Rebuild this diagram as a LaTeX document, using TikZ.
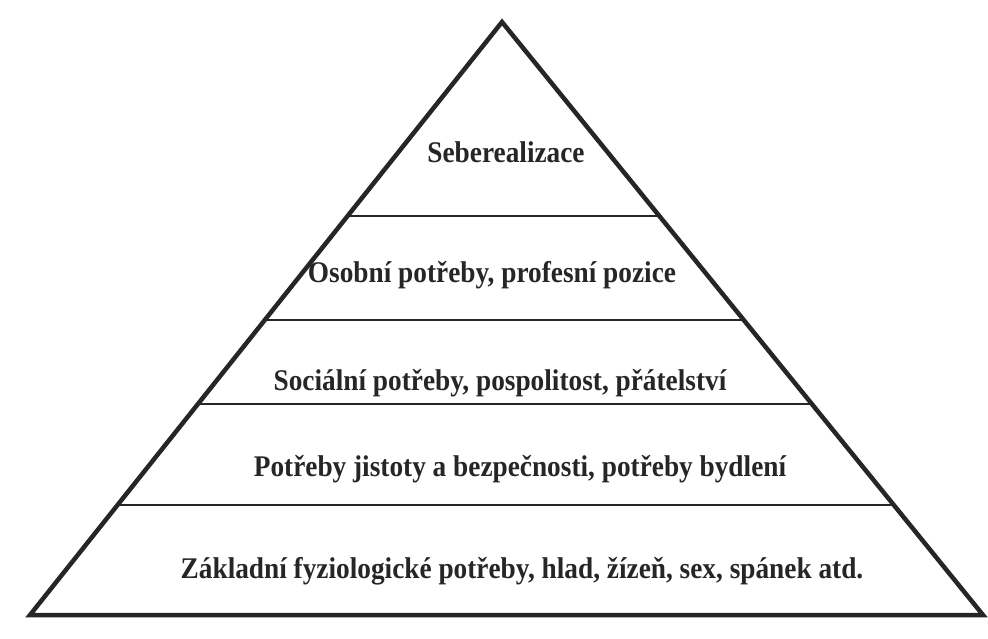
\documentclass[tikz,border=0pt]{standalone}
\usepackage{fontspec}
\setmainfont{Liberation Serif}[FakeStretch=0.91]
\usetikzlibrary{calc}

\begin{document}
\begin{tikzpicture}[
    x=1pt, y=-1pt,
    side/.style={line width=4.5pt, draw=black!85, line join=miter},
    divider/.style={line width=2.5pt, draw=black!85},
    tier/.style={font=\fontsize{30}{33}\selectfont\bfseries, text=black!85, inner sep=0pt, anchor=base}
]
    \useasboundingbox (0,0) rectangle (988,639);

    % Outline
    \coordinate (apex) at (502, 22);
    \coordinate (bl) at (30, 615);
    \coordinate (br) at (983, 615);
    \draw[side] (bl) -- (apex) -- (br) -- cycle;

    % Dividers
    \foreach \t/\n in {0.327/a, 0.5025/b, 0.644/c, 0.8145/d} {
        \coordinate (l\n) at ($(apex)!\t!(bl)$);
        \coordinate (r\n) at ($(apex)!\t!(br)$);
        \draw[divider] (l\n) -- (r\n);
    }

    % Levels
    \node[tier] (self) at (506, 163) {Seberealizace};
    \node[tier] (esteem) at (492, 282) {Osobní potřeby, profesní pozice};
    \node[tier] (social) at (500, 390) {Sociální potřeby, pospolitost, přátelství};
    \node[tier] (safety) at (520, 476) {Potřeby jistoty a bezpečnosti, potřeby bydlení};
    \node[tier] (basic) at (522, 578) {Základní fyziologické potřeby, hlad, žízeň, sex, spánek atd.};
\end{tikzpicture}
\end{document}
